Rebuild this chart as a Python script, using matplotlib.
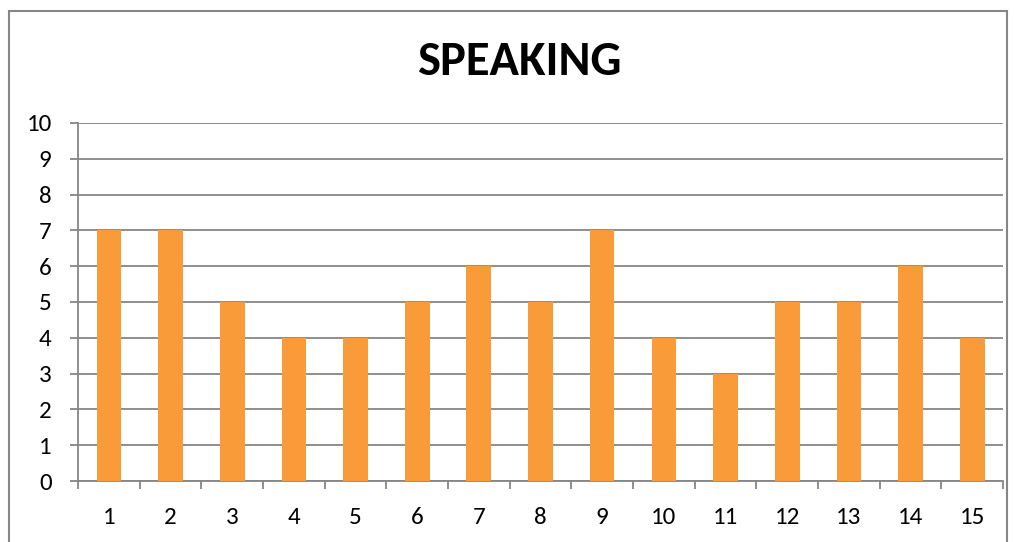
import numpy as np
import matplotlib.pyplot as plt
from matplotlib.patches import Rectangle

# Data
students = [str(i) for i in range(1, 16)]
scores = [7, 7, 5, 4, 4, 5, 6, 5, 7, 4, 3, 5, 5, 6, 4]

BAR = "#F99B38"
GRID = "#868686"

plt.rcParams['font.family'] = ['Carlito', 'Open Sans', 'DejaVu Sans']

fig = plt.figure(figsize=(10.16, 5.42), dpi=100)
ax = fig.add_axes([78 / 1016, 61 / 542, 925 / 1016, 358 / 542])

x = np.arange(len(students))
ax.bar(x, scores, width=0.4, color=BAR, zorder=3)

ax.set_xlim(-0.5, len(students) - 0.5)
ax.set_ylim(0, 10)
ax.set_yticks(range(0, 11))
ax.yaxis.grid(True, color=GRID, linewidth=1.3, zorder=0)

ax.set_xticks(x)
ax.set_xticklabels(students)
ax.set_xticks(np.arange(-0.5, len(students)), minor=True)
ax.tick_params(axis='x', which='major', length=0, pad=19, labelsize=18)
ax.tick_params(axis='x', which='minor', length=6, width=1.3, color=GRID, direction='out')
ax.tick_params(axis='y', length=6, width=1.3, color=GRID, pad=13, labelsize=18)

for s in ['top', 'right']:
    ax.spines[s].set_visible(False)
for s in ['left', 'bottom']:
    ax.spines[s].set_color(GRID)
    ax.spines[s].set_linewidth(1.3)

fig.text(519 / 1016, 1 - 62 / 542, "SPEAKING", ha='center', va='center',
         fontsize=35, fontweight='bold')

# chart frame (bottom edge is cut off in the original)
fig.patches.append(Rectangle((9 / 1016, -0.05), 998 / 1016, 1.05 - 11 / 542,
                             transform=fig.transFigure, fill=False,
                             edgecolor=GRID, linewidth=1.5))

fig.savefig("out.png", dpi=100)
